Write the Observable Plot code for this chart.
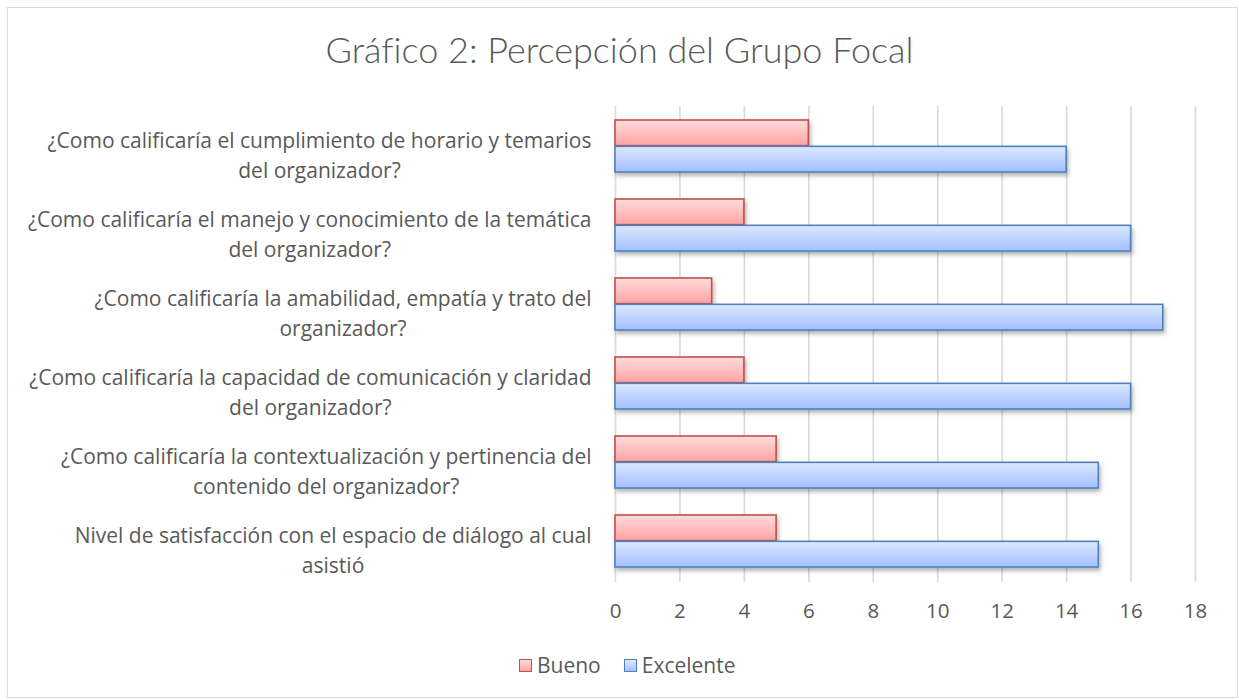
<!DOCTYPE html>
<html><head><meta charset="utf-8">
<script src="https://cdn.jsdelivr.net/npm/d3@7"></script>
<script src="https://cdn.jsdelivr.net/npm/@observablehq/plot@0.6"></script>
<style>
body{margin:0;background:#fff;font-family:"Open Sans",Lato,sans-serif;font-variant-ligatures:none;}
#wrap{position:relative;width:1239px;height:700px;overflow:hidden;}
#frame{position:absolute;left:7px;top:7px;width:1231px;height:691px;border:1px solid #d9d9d9;box-sizing:border-box;}
#chart{position:absolute;left:0;top:0;}
#title{position:absolute;top:27px;left:0;width:1239px;text-align:center;font-size:36px;color:#595959;font-weight:300;font-family:Lato,sans-serif;}
#legend{position:absolute;top:651px;left:519px;display:flex;align-items:center;font-size:21px;color:#595959;}
.sw{width:13px;height:13px;box-sizing:border-box;margin-right:5px;}
.item{display:flex;align-items:center;margin-right:23px;}
</style></head>
<body><div id="wrap"><div id="frame"></div><div id="chart"></div>
<div id="title">Gráfico 2: Percepción del Grupo Focal</div>
<div id="legend"></div></div>
<script>
const questions = [
  "¿Como calificaría el cumplimiento de horario y temarios\ndel organizador?",
  "¿Como calificaría el manejo y conocimiento de la temática\ndel organizador?",
  "¿Como calificaría la amabilidad, empatía y trato del\norganizador?",
  "¿Como calificaría la capacidad de comunicación y claridad\ndel organizador?",
  "¿Como calificaría la contextualización y pertinencia del\ncontenido del organizador?",
  "Nivel de satisfacción con el espacio de diálogo al cual\nasistió"
];
const series = ["Bueno", "Excelente"];
const bueno = [6, 4, 3, 4, 5, 5];
const excelente = [14, 16, 17, 16, 15, 15];
const xTicks = [0, 2, 4, 6, 8, 10, 12, 14, 16, 18];

const rows = questions.flatMap((q, i) => [
  {q, s: series[0], v: bueno[i]},
  {q, s: series[1], v: excelente[i]}
]);

const W = 1239, H = 700, plotTop = 106, plotBottom = 582, plotLeft = 615, plotRight = 1195;
const pIn = 0.336, pOut = 0.168;
const step = (plotBottom - plotTop) / (questions.length - pIn + 2 * pOut);
const half = step * (1 - pIn) / 2;

const svg = Plot.plot({
  width: W, height: H,
  marginTop: plotTop, marginBottom: H - plotBottom, marginLeft: plotLeft, marginRight: W - plotRight,
  style: {fontFamily: '"Open Sans", Lato, sans-serif', color: "#595959", background: "transparent"},
  x: {domain: [0, 18], ticks: xTicks},
  y: {domain: questions, paddingInner: pIn, paddingOuter: pOut},
  marks: [
    Plot.gridX(xTicks, {stroke: "#d9d9d9", strokeWidth: 1.6, strokeOpacity: 1}),
    Plot.barX(rows.filter(d => d.s === "Bueno"), {x: "v", y: "q", insetBottom: half, fill: "url(#gR)", stroke: "#c0504d", strokeWidth: 1.6}),
    Plot.barX(rows.filter(d => d.s === "Excelente"), {x: "v", y: "q", insetTop: half, fill: "url(#gB)", stroke: "#4f81bd", strokeWidth: 1.6}),
    Plot.axisX(xTicks, {tickSize: 0, tickPadding: 21, fontSize: 20.5, fill: "#595959", label: null}),
    Plot.axisY({tickSize: 0, tickPadding: 24, fontSize: 21, fill: "#595959", lineHeight: 1.42, dy: 7, label: null})
  ]
});

d3.select(svg).insert("defs", ":first-child").html(`
  <linearGradient id="gR" x1="0" y1="0" x2="0" y2="1">
    <stop offset="0" stop-color="#ffdcdc"/><stop offset="1" stop-color="#ffa3a3"/>
  </linearGradient>
  <linearGradient id="gB" x1="0" y1="0" x2="0" y2="1">
    <stop offset="0" stop-color="#dde8ff"/><stop offset="1" stop-color="#a2c0ff"/>
  </linearGradient>
  <filter id="sh" x="-10%" y="-30%" width="120%" height="180%">
    <feDropShadow dx="1.5" dy="3" stdDeviation="2" flood-color="#000" flood-opacity="0.3"/>
  </filter>`);
d3.select(svg).selectAll('g[aria-label="bar"]').attr("filter", "url(#sh)");
document.getElementById("chart").appendChild(svg);

// center-align each multi-line y label within its own block, block right-aligned
d3.select(svg).selectAll('g[aria-label="y-axis tick label"] text').each(function() {
  const w = this.getBBox().width;
  const t = d3.select(this);
  t.attr("text-anchor", "middle");
  const tr = t.attr("transform") || "";
  t.attr("transform", tr + ` translate(${-w / 2},0)`);
});

const legendColors = {Bueno: ["#ffdcdc", "#ffa3a3", "#c0504d"], Excelente: ["#dde8ff", "#a2c0ff", "#4f81bd"]};
const lg = d3.select("#legend");
series.forEach(s => {
  const it = lg.append("div").attr("class", "item");
  const c = legendColors[s];
  it.append("div").attr("class", "sw")
    .style("background", `linear-gradient(${c[0]}, ${c[1]})`)
    .style("border", `1.5px solid ${c[2]}`);
  it.append("span").text(s);
});
</script></body></html>
